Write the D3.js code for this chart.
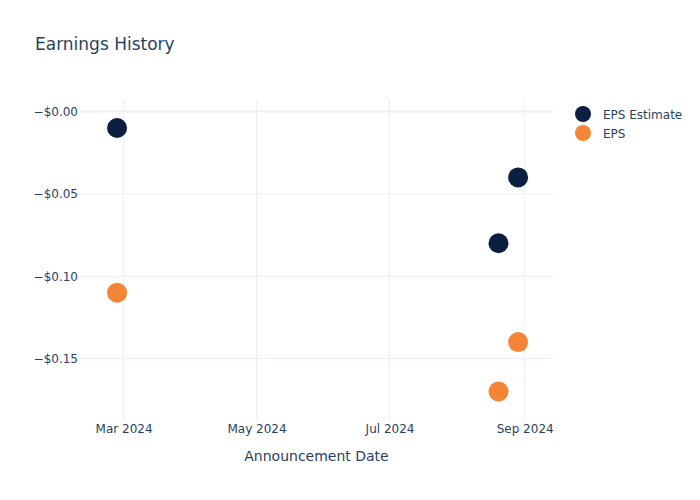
<!DOCTYPE html>
<html>
<head>
<meta charset="utf-8">
<script src="https://cdn.jsdelivr.net/npm/d3@7"></script>
<style>
  body { margin: 0; background: #fff; }
  text { font-family: "DejaVu Sans", sans-serif; }
</style>
</head>
<body>
<script>
// chart data
var dates = ["2024-02-27", "2024-08-20", "2024-08-29"];
var estimates = [-0.01, -0.08, -0.04];
var actuals = [-0.11, -0.17, -0.14];
var seriesNames = ["EPS Estimate", "EPS"];
var seriesColors = ["#0b1f41", "#f58536"];
var yTicks = [0, -0.05, -0.10, -0.15];
var xTicks = ["2024-03-01", "2024-05-01", "2024-07-01", "2024-09-01"];

var w = 700;
var h = 500;
var margin = {top: 100, right: 147, bottom: 80, left: 80};
var textColor = "#2a3f5f";
var gridColor = "#ebf0f8";

var parse = d3.timeParse("%Y-%m-%d");

var svg = d3.select("body")
  .append("svg")
  .attr("width", w)
  .attr("height", h);

var xScale = d3.scaleTime()
  .domain([parse("2024-02-10"), parse("2024-09-14")])
  .range([margin.left, w - margin.right]);

var yScale = d3.scaleLinear()
  .domain([0.007, -0.1873])
  .range([margin.top, h - margin.bottom]);

function money(v) {
  return (v <= 0 ? "\u2212" : "") + "$" + Math.abs(v).toFixed(2);
}

// gridlines
svg.append("g")
  .selectAll("line")
  .data(xTicks)
  .enter()
  .append("line")
  .attr("x1", function(d) { return xScale(parse(d)); })
  .attr("x2", function(d) { return xScale(parse(d)); })
  .attr("y1", margin.top)
  .attr("y2", h - margin.bottom)
  .attr("stroke", gridColor)
  .attr("stroke-width", 1);

svg.append("g")
  .selectAll("line")
  .data(yTicks)
  .enter()
  .append("line")
  .attr("x1", margin.left)
  .attr("x2", w - margin.right)
  .attr("y1", function(d) { return yScale(d); })
  .attr("y2", function(d) { return yScale(d); })
  .attr("stroke", gridColor)
  .attr("stroke-width", function(d) { return d === 0 ? 2 : 1; });

// axes
var xAxis = d3.axisBottom(xScale)
  .tickValues(xTicks.map(parse))
  .tickFormat(d3.timeFormat("%b %Y"))
  .tickSize(0)
  .tickPadding(4);

var yAxis = d3.axisLeft(yScale)
  .tickValues(yTicks)
  .tickFormat(money)
  .tickSize(0)
  .tickPadding(2);

var gx = svg.append("g")
  .attr("transform", "translate(0," + (h - margin.bottom) + ")")
  .call(xAxis);
var gy = svg.append("g")
  .attr("transform", "translate(" + margin.left + ",0)")
  .call(yAxis);

[gx, gy].forEach(function(g) {
  g.select(".domain").remove();
  g.selectAll("text")
    .attr("fill", textColor)
    .attr("font-size", "12px")
    .style("font-family", "'DejaVu Sans', sans-serif");
});

// points
var series = [estimates, actuals];
series.forEach(function(vals, s) {
  svg.append("g")
    .selectAll("circle")
    .data(vals)
    .enter()
    .append("circle")
    .attr("cx", function(d, i) { return xScale(parse(dates[i])); })
    .attr("cy", function(d) { return yScale(d); })
    .attr("r", 10)
    .attr("fill", seriesColors[s]);
});

// title
svg.append("text")
  .attr("x", 35)
  .attr("y", 50)
  .attr("font-size", "17px")
  .attr("fill", textColor)
  .text("Earnings History");

svg.append("text")
  .attr("x", (margin.left + w - margin.right) / 2)
  .attr("y", 461)
  .attr("text-anchor", "middle")
  .attr("font-size", "14px")
  .attr("fill", textColor)
  .text("Announcement Date");

// legend
var legend = svg.append("g")
  .selectAll("g")
  .data(seriesNames)
  .enter()
  .append("g")
  .attr("transform", function(d, i) { return "translate(583," + (114 + i * 19) + ")"; });

legend.append("circle")
  .attr("r", 8)
  .attr("fill", function(d, i) { return seriesColors[i]; });

legend.append("text")
  .attr("x", 20)
  .attr("y", 4.5)
  .attr("font-size", "12px")
  .attr("fill", textColor)
  .text(function(d) { return d; });
</script>
</body>
</html>
